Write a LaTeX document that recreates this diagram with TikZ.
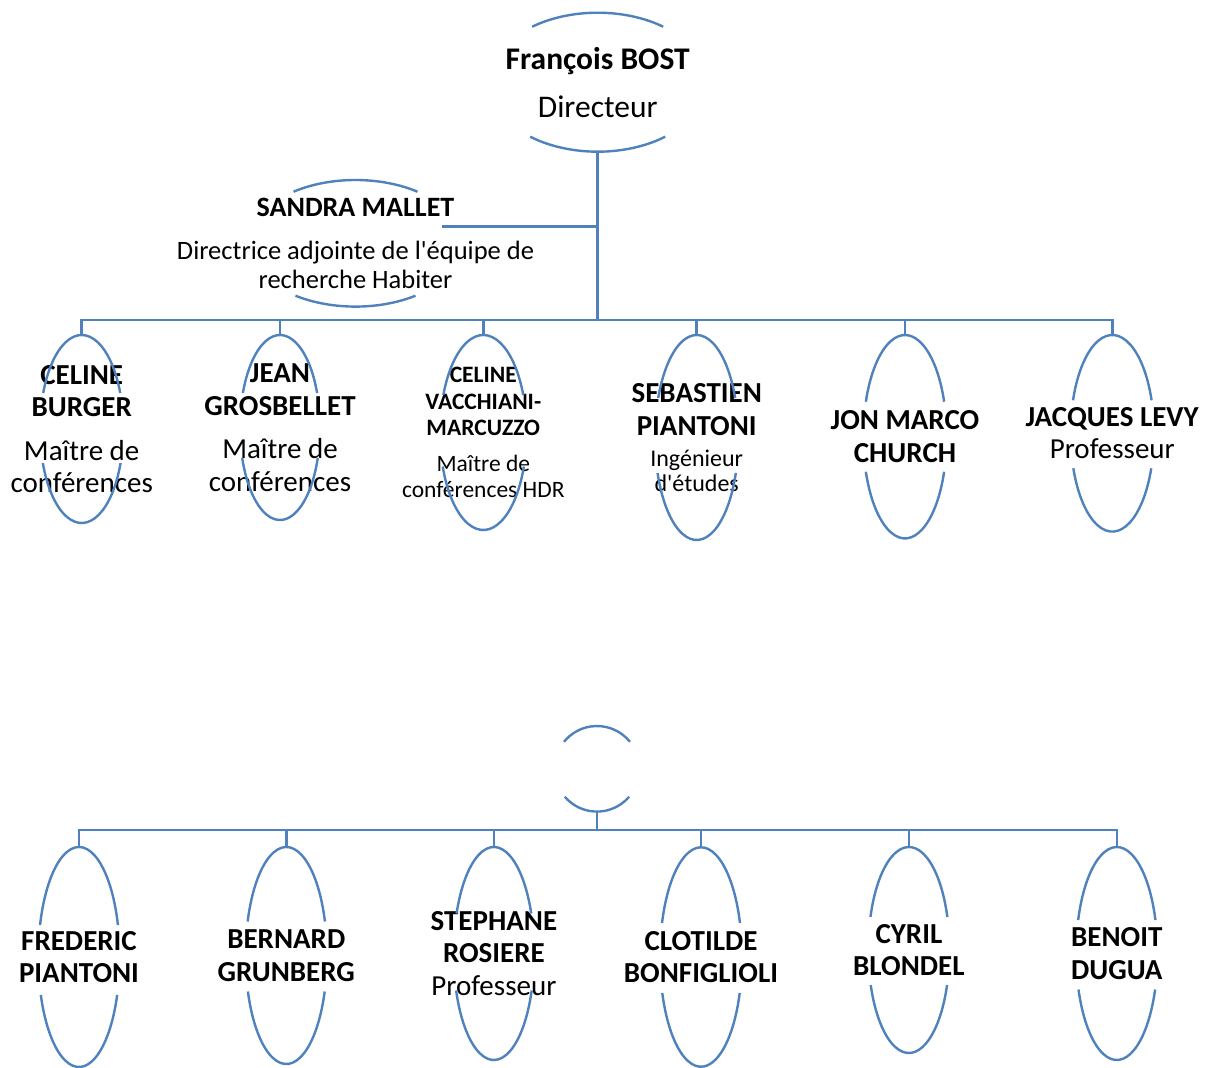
\documentclass[tikz,border=0pt]{standalone}
\usepackage{fontspec}
\setmainfont{Carlito}[Ligatures=TeXOff]
\definecolor{chartblue}{RGB}{79,129,189}
\tikzset{
  person/.style={shape=rectangle, inner sep=0pt, align=center, font=\fontsize{29}{32.5}\selectfont},
  link/.style={draw=chartblue, line width=2.6pt},
  oval/.style={draw=chartblue, line width=2.4pt},
}
% ellipse of a node, open on both sides: name, x radius, y radius, upper gap, lower gap
\newcommand\openoval[5]{%
  \pgfmathsetmacro\uppergap{asin(#4/#3)}%
  \pgfmathsetmacro\lowergap{asin(#5/#3)}%
  \draw[oval] (#1.center) ++(\uppergap:#2pt and #3pt)
    arc[start angle=\uppergap, end angle=180-\uppergap, x radius=#2pt, y radius=#3pt];
  \draw[oval] (#1.center) ++(-\lowergap:#2pt and #3pt)
    arc[start angle=-\lowergap, end angle=-180+\lowergap, x radius=#2pt, y radius=#3pt];
}
\begin{document}
\begin{tikzpicture}[x=1pt, y=-1pt]
\useasboundingbox (0,0) rectangle (1211,1068);
\node (boss) at (597.7, 82.2) [person, minimum height=139pt, font=\fontsize{31.5}{38}\selectfont] {\textbf{François BOST}\\[10pt]Directeur};
\node (mallet) at (355.5, 243.3) [person, minimum height=126.6pt, font=\fontsize{26.5}{29}\selectfont] {\textbf{\fontsize{28}{29}\selectfont SANDRA MALLET}\\[13.3pt]Directrice adjointe de l'équipe de\\recherche Habiter};
% first row
\node (burger) at (81.7, 429) [person, minimum height=188pt] {\textbf{CELINE}\\\textbf{BURGER}\\[11pt]Maître de\\conférences};
\node (grosbellet) at (280, 427.5) [person, minimum height=185pt] {\textbf{JEAN}\\\textbf{GROSBELLET}\\[11pt]Maître de\\conférences};
\node (vacchiani) at (483.3, 432.5) [person, minimum height=195pt, font=\fontsize{23.5}{26.5}\selectfont] {\textbf{CELINE}\\\textbf{VACCHIANI-}\\\textbf{MARCUZZO}\\[9pt]Maître de\\conférences HDR};
\node (sebastien) at (696.7, 437.5) [person, minimum height=205pt] {\textbf{SEBASTIEN}\\\textbf{PIANTONI}\\[-1.5pt]{\fontsize{24}{26}\selectfont Ingénieur}\\[-7.5pt]{\fontsize{24}{26}\selectfont d'études}};
\node (church) at (905, 436.7) [person, minimum height=203.4pt] {\textbf{JON MARCO}\\\textbf{CHURCH}};
\node (levy) at (1112.3, 433.3) [person, minimum height=196.6pt] {\textbf{JACQUES LEVY}\\Professeur};
% second row
\node (team) at (597, 768.8) [person, minimum height=85.6pt] {};
\node (frederic) at (79, 957) [person, minimum height=220pt] {\textbf{FREDERIC}\\\textbf{PIANTONI}};
\node (grunberg) at (286.3, 955.5) [person, minimum height=217pt] {\textbf{BERNARD}\\\textbf{GRUNBERG}};
\node (rosiere) at (493.9, 953.5) [person, minimum height=213pt] {\textbf{STEPHANE}\\\textbf{ROSIERE}\\Professeur};
\node (bonfiglioli) at (701, 957) [person, minimum height=219.4pt] {\textbf{CLOTILDE}\\\textbf{BONFIGLIOLI}};
\node (blondel) at (908.9, 950) [person, minimum height=206pt] {\textbf{CYRIL}\\\textbf{BLONDEL}};
\node (dugua) at (1116.8, 953.5) [person, minimum height=213pt] {\textbf{BENOIT}\\\textbf{DUGUA}};
% connectors
\coordinate (hub) at (597.7, 320);
\coordinate (teamhub) at (597, 830);
\coordinate (deputy) at (441.7, 226.7);
\draw[link] (boss.south) -- (hub);
\draw[link] (deputy) -- (deputy -| boss.south);
\foreach \n in {burger, grosbellet, vacchiani, sebastien, church, levy}
  \draw[link] (\n.north) |- (hub);
\draw[link] (team.south) -- (teamhub);
\foreach \n in {frederic, grunberg, rosiere, bonfiglioli, blondel, dugua}
  \draw[link] (\n.north) |- (teamhub);
% ovals
\openoval{boss}{108.8}{69.5}{55.5}{54.5}
\openoval{mallet}{107}{63.3}{51.6}{52.4}
\openoval{burger}{41.7}{94}{36}{34}
\openoval{grosbellet}{40}{92.5}{34.5}{30.5}
\openoval{vacchiani}{43.3}{97.5}{37.5}{34}
\openoval{sebastien}{41.7}{102.5}{39.5}{35.5}
\openoval{church}{41.7}{101.7}{35}{35}
\openoval{levy}{41.7}{98.3}{33}{35}
\openoval{team}{42.5}{42.8}{27}{28}
\openoval{frederic}{40.7}{110}{32}{38}
\openoval{grunberg}{40.7}{108.5}{34}{36}
\openoval{rosiere}{40.3}{106.5}{40}{37}
\openoval{bonfiglioli}{41}{109.7}{34}{36}
\openoval{blondel}{40.6}{103}{33}{35}
\openoval{dugua}{40.7}{106.5}{33.5}{36}
\end{tikzpicture}
\end{document}
